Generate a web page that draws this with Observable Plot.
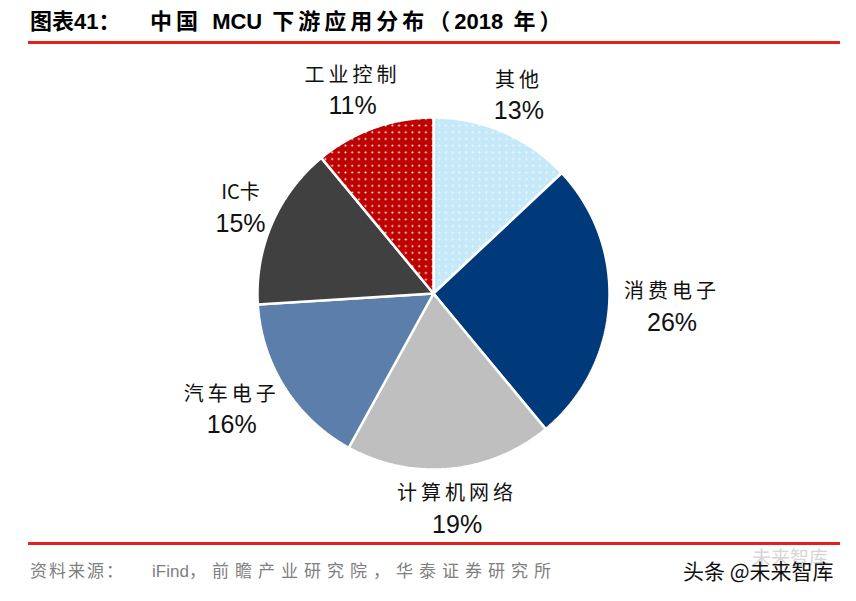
<!DOCTYPE html>
<html>
<head>
<meta charset="utf-8">
<script src="https://cdn.jsdelivr.net/npm/d3@7"></script>
<script src="https://cdn.jsdelivr.net/npm/@observablehq/plot@0.6"></script>
<style>
  html, body { margin: 0; padding: 0; background: #fff; }
  #page { position: relative; width: 856px; height: 601px; overflow: hidden; font-family: "Liberation Sans", "Noto Sans CJK SC", sans-serif; }
  .title { position: absolute; top: 8px; font-size: 22px; line-height: 28px; font-weight: bold; color: #000; white-space: nowrap; }
  .sp { letter-spacing: 4px; }
  .rule { position: absolute; left: 28px; width: 812px; height: 3px; background: #E3231A; }
  .source { position: absolute; top: 561px; font-size: 17px; line-height: 22px; color: #808080; white-space: nowrap; font-family: "Liberation Sans", "Noto Sans CJK SC", sans-serif; }
  .wm { position: absolute; left: 683px; top: 557px; font-size: 21px; line-height: 26px; color: #111; white-space: nowrap; font-family: "Noto Sans CJK SC", sans-serif; }
  .wm2 { position: absolute; left: 752px; top: 545px; font-size: 19px; line-height: 24px; color: #bbb; opacity: 0.6; white-space: nowrap; font-family: "Noto Sans CJK SC", sans-serif; }
  #chart { position: absolute; left: 0; top: 48px; }
</style>
</head>
<body>
<svg width="0" height="0" style="position:absolute">
  <defs>
    <pattern id="dots-red" patternUnits="userSpaceOnUse" width="6.7" height="6.7">
      <rect width="6.7" height="6.7" fill="#BE0000"></rect>
      <circle cx="3.3" cy="3.3" r="1" fill="#ffffff"></circle>
    </pattern>
    <pattern id="dots-blue" patternUnits="userSpaceOnUse" width="6.7" height="6.7">
      <rect width="6.7" height="6.7" fill="#C6E9F9"></rect>
      <circle cx="3.3" cy="3.3" r="0.9" fill="#ffffff" fill-opacity="0.85"></circle>
    </pattern>
  </defs>
</svg>
<div id="page">
  <div id="chart"></div>
  <div class="title" style="left:30px">图表41：</div>
  <div class="title" style="left:150px"><span class="sp">中国 </span>MCU<span class="sp"> 下游应用分布（</span>2018<span class="sp"> 年）</span></div>
  <div class="rule" style="top:41px"></div>
  <div class="rule" style="top:542px"></div>
  <div class="source" style="left:30px; letter-spacing:2px">资料来源：</div>
  <div class="source" style="left:152px">iFind</div>
  <div class="source" style="left:189px; letter-spacing:6px">，前瞻产业研究院，华泰证券研究所</div>
  <div class="wm2">未来智库</div>
  <div class="wm">头条 @未来智库</div>
</div>
<script>
// ---- data ----
const categories = ["其他", "消费电子", "计算机网络", "汽车电子", "IC卡", "工业控制"];
const shares = [13, 26, 19, 16, 15, 11];

// ---- styling (scale range) ----
const sliceFills = ["url(#dots-blue)", "#003A7A", "#BFBFBF", "#5B7FAA", "#404040", "url(#dots-red)"];

// ---- geometry ----
const R = 176;          // pie radius in px
const cx = 433, cy = 245;
const arcs = d3.pie().sort(null).value(d => d)(shares);

const polys = [];
arcs.forEach((a, i) => {
  const name = categories[i];
  polys.push({name, x: 0, y: 0});
  const n = Math.max(8, Math.ceil((a.endAngle - a.startAngle) / 0.01));
  for (let k = 0; k <= n; k++) {
    const t = a.startAngle + (a.endAngle - a.startAngle) * k / n;
    polys.push({name, x: Math.sin(t), y: Math.cos(t)});
  }
});

// label placement: outside end, label box touching a ring slightly outside the pie
const ctx = document.createElement("canvas").getContext("2d");
ctx.font = "20px 'Noto Sans CJK SC'";
const gap = 15, boxH = 50;
const isCJK = s => /^[\u4e00-\u9fff]+$/.test(s);
const labels = arcs.map((a, i) => {
  const mid = (a.startAngle + a.endAngle) / 2;
  const name = categories[i];
  const w = ctx.measureText(name).width + (isCJK(name) ? 4 * name.length : 0);
  const s = Math.sin(mid), c = Math.cos(mid);
  return {
    name,
    share: shares[i],
    x: ((R + gap) * s + (w / 2) * s) / R,
    y: ((R + gap) * c + (boxH / 2) * c) / R
  };
});

const chart = Plot.plot({
  width: 856,
  height: 497,
  margin: 0,
  x: {domain: [-1, 1], range: [cx - R, cx + R], axis: null},
  y: {domain: [-1, 1], range: [cy + R, cy - R], axis: null},
  color: {domain: categories, range: sliceFills},
  marks: [
    Plot.line(polys, {x: "x", y: "y", z: "name", fill: "name", stroke: "white", strokeWidth: 2.5, curve: "linear-closed", strokeLinejoin: "miter"}),
    Plot.text(labels, {x: "x", y: "y", text: "name", dy: -15, fontSize: 20, fontFamily: "Noto Sans CJK SC", fill: "#111"}),
    Plot.text(labels, {x: "x", y: "y", text: d => d.share + "%", dy: 16, fontSize: 25, fontFamily: "Liberation Sans", fill: "#111"})
  ]
});
// widen the purely Chinese category labels like the reference (letter spacing)
d3.select(chart).selectAll("text")
  .filter(function() { return isCJK(this.textContent); })
  .style("letter-spacing", "4px");
document.getElementById("chart").appendChild(chart);
</script>
</body>
</html>
